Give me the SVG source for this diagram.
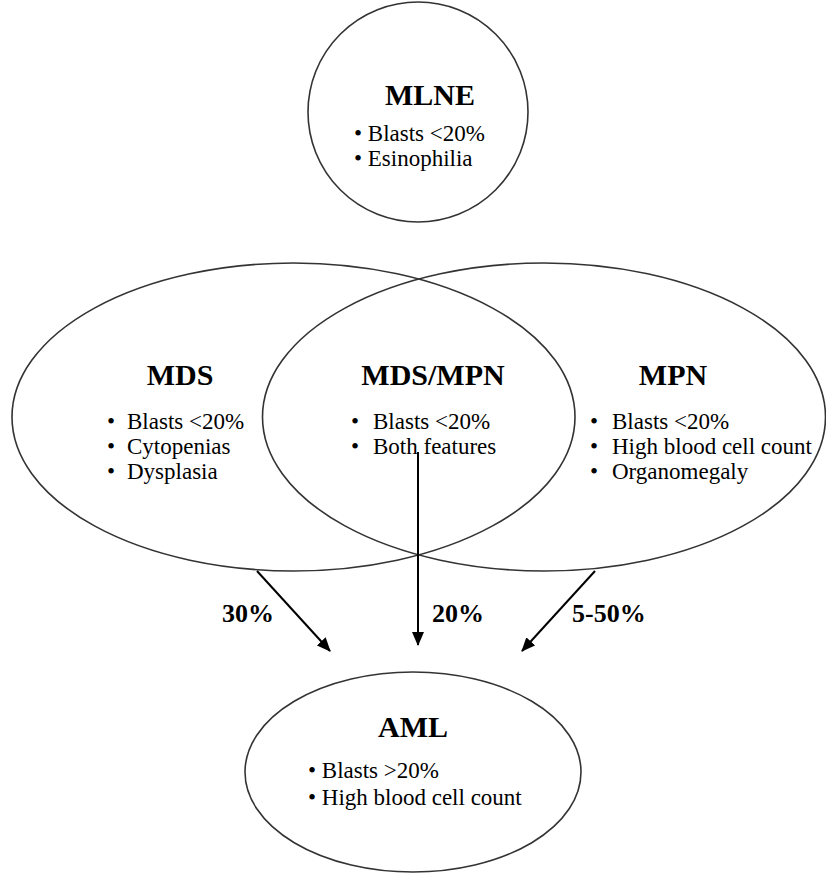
<svg xmlns="http://www.w3.org/2000/svg" width="826" height="876" viewBox="0 0 826 876">
<defs>
<style>
.shape{fill:none;stroke:#333;stroke-width:1.6}
.title{font-family:"Liberation Serif","Times New Roman",serif;font-weight:bold;font-size:30px;fill:#000;text-anchor:middle}
.item{font-family:"Liberation Serif","Times New Roman",serif;font-size:23px;fill:#000}
.pct{font-family:"Liberation Serif","Times New Roman",serif;font-weight:bold;font-size:26px;fill:#000}
.arrow{stroke:#000;stroke-width:2;fill:none}
</style>
<marker id="ah" viewBox="0 0 14 12" refX="13" refY="6" markerWidth="14" markerHeight="12" markerUnits="userSpaceOnUse" orient="auto">
<path d="M0,0 L14,6 L0,12 Z" fill="#000"/>
</marker>
</defs>
<rect width="826" height="876" fill="#fff"/>
<g id="MLNE">
<circle class="shape" cx="418" cy="112" r="110"/>
<text class="title" x="430" y="105">MLNE</text>
<text class="item" x="354" y="141">• Blasts &lt;20%</text>
<text class="item" x="354" y="166">• Esinophilia</text>
</g>
<g id="MDS">
<ellipse class="shape" cx="293.5" cy="417" rx="281.5" ry="154"/>
<text class="title" x="180" y="385">MDS</text>
<text class="item" x="107" y="429">•</text>
<text class="item" x="127" y="429">Blasts &lt;20%</text>
<text class="item" x="107" y="454">•</text>
<text class="item" x="127" y="454">Cytopenias</text>
<text class="item" x="107" y="479">•</text>
<text class="item" x="127" y="479">Dysplasia</text>
</g>
<g id="MPN">
<ellipse class="shape" cx="544" cy="417" rx="281.5" ry="154"/>
<text class="title" x="673" y="385">MPN</text>
<text class="item" x="590" y="429">•</text>
<text class="item" x="612" y="429">Blasts &lt;20%</text>
<text class="item" x="590" y="454">•</text>
<text class="item" x="612" y="454">High blood cell count</text>
<text class="item" x="590" y="479">•</text>
<text class="item" x="612" y="479">Organomegaly</text>
</g>
<g id="MDS_MPN">
<text class="title" x="433" y="385">MDS/MPN</text>
<text class="item" x="351" y="429">•</text>
<text class="item" x="373" y="429">Blasts &lt;20%</text>
<text class="item" x="351" y="454">•</text>
<text class="item" x="373" y="454">Both features</text>
</g>
<g id="AML">
<ellipse class="shape" cx="413" cy="772" rx="168" ry="100"/>
<text class="title" x="413" y="737">AML</text>
<text class="item" x="308" y="778">• Blasts &gt;20%</text>
<text class="item" x="308" y="805">• High blood cell count</text>
</g>
<g id="connectors">
<line class="arrow" x1="257" y1="571" x2="330" y2="651" marker-end="url(#ah)"/>
<line class="arrow" x1="418" y1="452" x2="418" y2="645" marker-end="url(#ah)"/>
<line class="arrow" x1="595" y1="571" x2="522" y2="651" marker-end="url(#ah)"/>
<text class="pct" x="222" y="622">30%</text>
<text class="pct" x="432" y="622">20%</text>
<text class="pct" x="572" y="622">5-50%</text>
</g>
</svg>
